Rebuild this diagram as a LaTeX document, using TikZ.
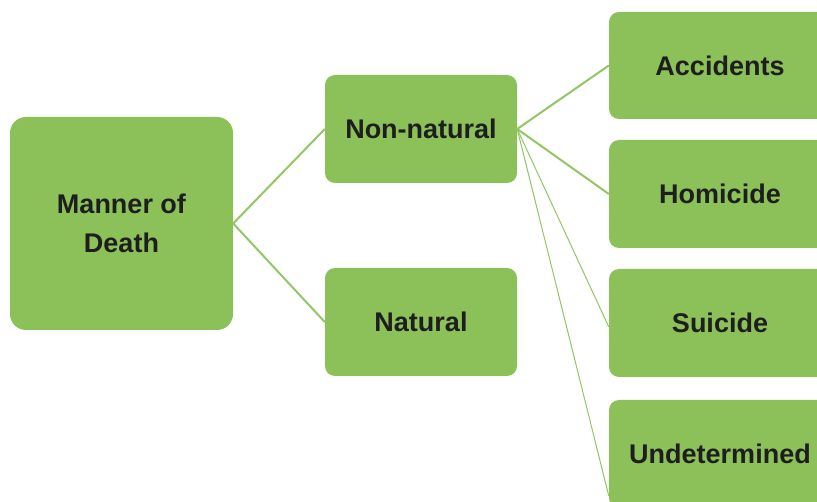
\documentclass[tikz,border=0pt]{standalone}
\usepackage{fontspec}
\setmainfont{Liberation Sans}
\definecolor{boxgreen}{HTML}{8CC15A}
\definecolor{linegreen}{HTML}{92C666}
\definecolor{txt}{HTML}{1E1E1E}
\begin{document}
\begin{tikzpicture}[x=1pt,y=-1pt,
  gbox/.style={fill=boxgreen, draw=none, rounded corners=10pt, inner sep=0pt,
    text=txt, font=\fontsize{27}{39}\selectfont\bfseries, align=center},
  conn/.style={draw=linegreen, line width=2pt},
  thinconn/.style={draw=linegreen, line width=1pt}]
\useasboundingbox (0,0) rectangle (817,502);
\fill[white] (0,0) rectangle (817,502);
\clip (0,0) rectangle (817,502);
\node[gbox, rounded corners=16pt, minimum width=223pt, minimum height=213pt] (mod) at (121.5,223.5) {Manner of\\Death};
\node[gbox, minimum width=192pt, minimum height=108pt] (nn) at (421,129) {Non-natural};
\node[gbox, minimum width=192pt, minimum height=108pt] (nat) at (421,322) {Natural};
\node[gbox, minimum width=222pt, minimum height=107pt] (acc) at (720,65.5) {Accidents};
\node[gbox, minimum width=222pt, minimum height=108pt] (hom) at (720,194) {Homicide};
\node[gbox, minimum width=222pt, minimum height=108pt] (sui) at (720,323) {Suicide};
\node[gbox, minimum width=222pt, minimum height=108pt] (und) at (720,454) {Undetermined};
\draw[conn] (nat.west) -- (mod.east) -- (nn.west);
\draw[conn] (acc.west) -- (nn.east) -- (hom.west);
\draw[thinconn] (nn.east) -- ([yshift=-4pt]sui.west);
\draw[thinconn] (nn.east) -- ([yshift=-42pt]und.west);
\end{tikzpicture}
\end{document}
